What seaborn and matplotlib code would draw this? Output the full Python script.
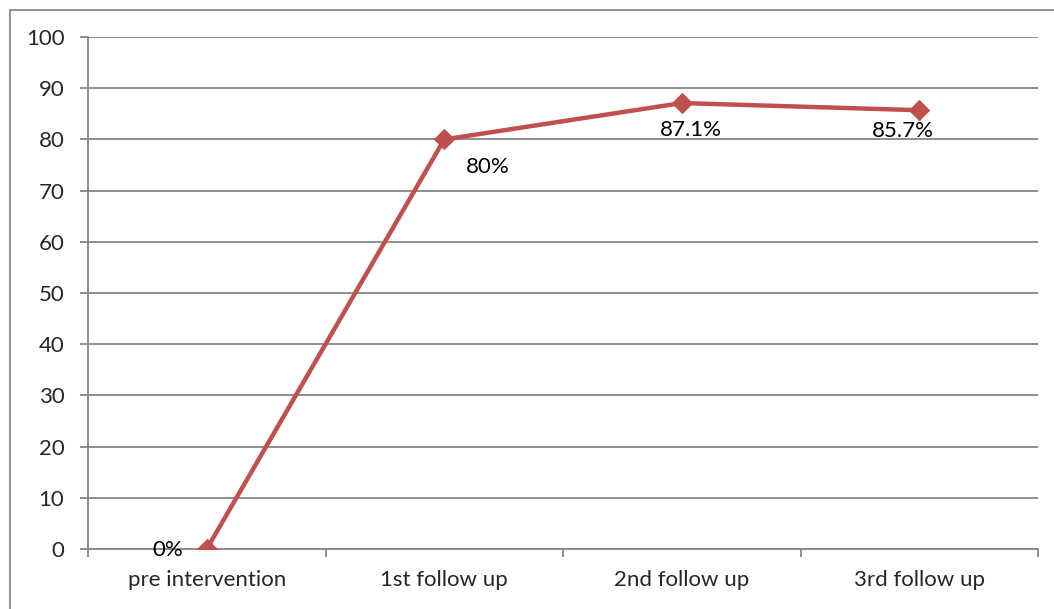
import matplotlib
matplotlib.use("Agg")
import matplotlib.pyplot as plt
import seaborn as sns
import pandas as pd
from matplotlib.patches import Rectangle

categories = ["pre intervention", "1st follow up", "2nd follow up", "3rd follow up"]
values = [0, 80, 87.1, 85.7]
labels = ["0%", "80%", "87.1%", "85.7%"]
yticks = [0, 10, 20, 30, 40, 50, 60, 70, 80, 90, 100]

sns.set_theme(style="white")
plt.rcParams['font.family'] = ['Lato', 'DejaVu Sans']

W, H = 1054, 609
fig = plt.figure(figsize=(W / 100, H / 100), dpi=100)
ax = fig.add_axes([88 / W, 1 - 549 / H, (1038 - 88) / W, (549 - 37) / H])

df = pd.DataFrame({"cat": categories, "val": values})
df["x"] = range(len(categories))
sns.lineplot(data=df, x="x", y="val", ax=ax, color="#C0504D", linewidth=3.2,
             marker="D", markersize=10, markeredgecolor="#C0504D", zorder=5)

FS = 16
ax.set_xlim(-0.5, 3.5)
ax.set_ylim(0, 100)
ax.set_yticks(yticks)
ax.set_yticklabels([str(t) for t in yticks])
ax.yaxis.grid(True, color="#868686", linewidth=1.3)
ax.set_axisbelow(True)

ax.set_xticks([-0.5, 0.5, 1.5, 2.5, 3.5])
ax.set_xticklabels([])
ax.set_xticks(range(len(categories)), minor=True)
ax.set_xticklabels(categories, minor=True)
ax.tick_params(axis="x", which="minor", length=0, pad=15, labelsize=FS)
ax.tick_params(axis="x", which="major", length=6, width=1.3, color="#868686", direction="out")
ax.tick_params(axis="y", length=6, width=1.3, color="#868686", direction="out", labelsize=FS, pad=11)
ax.tick_params(bottom=True, left=True)

for s in ["top", "right"]:
    ax.spines[s].set_visible(False)
for s in ["left", "bottom"]:
    ax.spines[s].set_color("#868686")
    ax.spines[s].set_linewidth(1.3)

ax.set_xlabel("")
ax.set_ylabel("")

offsets = [(-28, -1), (31, -20), (6.5, -19.5), (-12, -15)]
for i, (v, lab) in enumerate(zip(values, labels)):
    ax.annotate(lab, (i, v), xytext=offsets[i], textcoords="offset points",
                ha="center", va="center", fontsize=FS, color="black")

fig.patches.append(Rectangle((10 / W, -0.1), 1.2, 1 - 10 / H + 0.1, transform=fig.transFigure,
                             fill=False, edgecolor="#868686", linewidth=1.3))

fig.savefig("out.png", dpi=100, facecolor="white")
